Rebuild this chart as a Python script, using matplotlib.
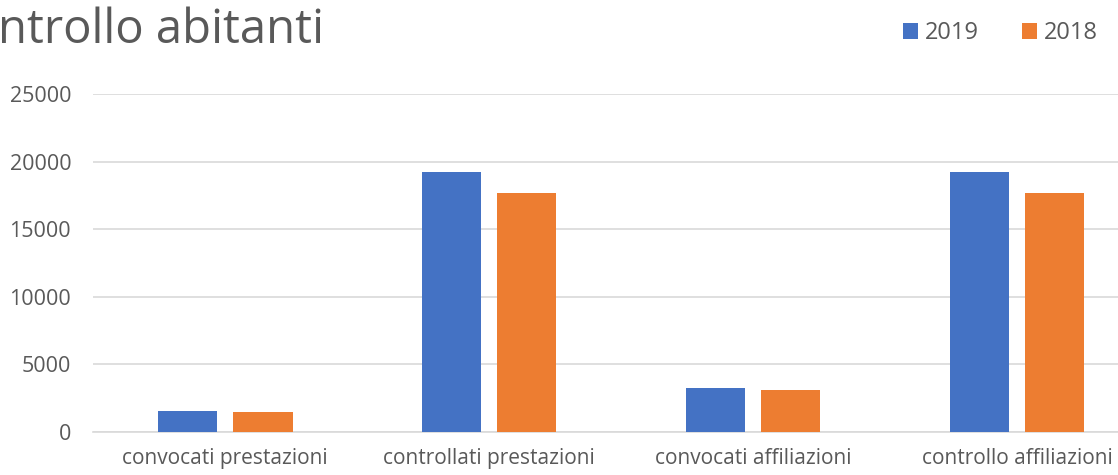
import numpy as np
import matplotlib.pyplot as plt

plt.rcParams['font.family'] = ['Open Sans', 'DejaVu Sans']

# Data
categories = ['convocati prestazioni', 'controllati prestazioni',
              'convocati affiliazioni', 'controllo affiliazioni']
series_names = ['2019', '2018']
values_2019 = [1560, 19220, 3240, 19220]
values_2018 = [1460, 17710, 3070, 17710]
yticks = [0, 5000, 10000, 15000, 20000, 25000]

blue = '#4472C4'
orange = '#ED7D31'
text_grey = '#595959'
grid_grey = '#D9D9D9'

fig = plt.figure(figsize=(11.18, 4.75), dpi=100)
ax = fig.add_axes([0.0835, 0.0912, 0.9165, 0.7103])

x = np.arange(len(categories))
w = 0.225
off = 0.1425
ax.bar(x - off, values_2019, w, color=blue, label=series_names[0], zorder=3)
ax.bar(x + off, values_2018, w, color=orange, label=series_names[1], zorder=3)

ax.set_xlim(-0.5, 3.383)
ax.set_ylim(0, 25000)
ax.set_yticks(yticks)
ax.set_xticks(x)
ax.set_xticklabels(categories)
ax.tick_params(axis='both', length=0, labelsize=15, colors=text_grey)
ax.tick_params(axis='y', labelsize=15.5, pad=16)
ax.tick_params(axis='x', pad=12)
ax.grid(axis='y', color=grid_grey, lw=1.2, zorder=0)
for s in ['top', 'right', 'left']:
    ax.spines[s].set_visible(False)
ax.spines['bottom'].set_color(grid_grey)
ax.spines['bottom'].set_linewidth(1.2)

# title (cropped in the original image)
fig.text(-0.002, 0.909, 'ntrollo abitanti', fontsize=34, color=text_grey,
         ha='left', va='baseline')

leg = fig.legend(loc='upper right', bbox_to_anchor=(1.001, 1.0), ncol=2,
                 frameon=False, fontsize=17, handlelength=0.64,
                 handleheight=0.64, handletextpad=0.3, columnspacing=1.8)
for t in leg.get_texts():
    t.set_color(text_grey)

fig.savefig('out.png', dpi=100)
